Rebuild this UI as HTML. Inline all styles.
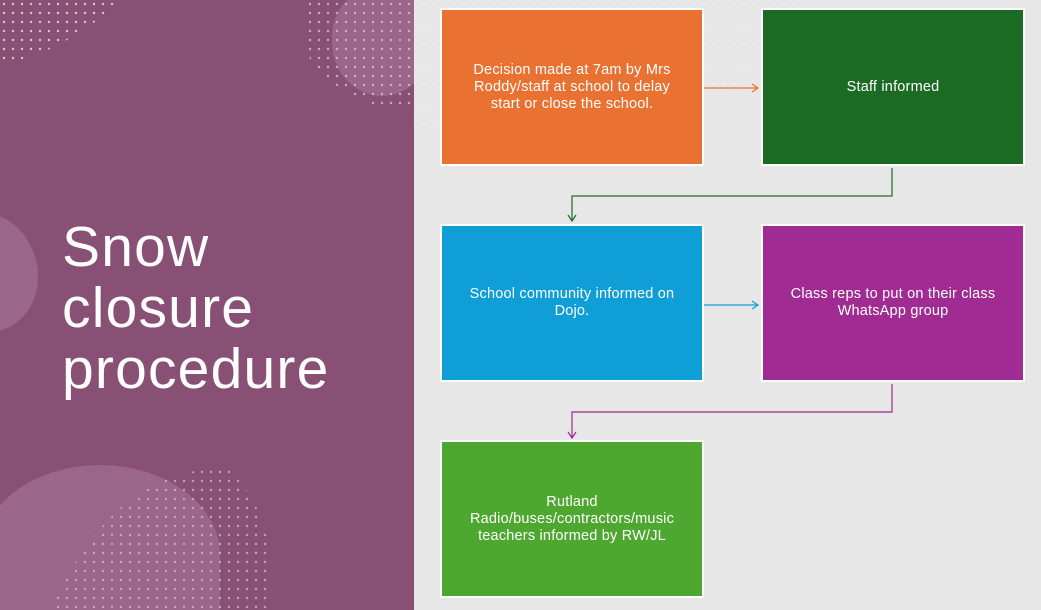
<!DOCTYPE html>
<html><head><meta charset="utf-8"><style>
html,body{margin:0;width:1041px;height:610px;overflow:hidden}
body{position:relative;background:#e7e7e7;font-family:"Liberation Sans",sans-serif}
#left{position:absolute;left:0;top:0;width:414px;height:610px;background:#895075;overflow:hidden}
.blob{position:absolute;background:#9a6689;border-radius:50%}
.title{position:absolute;left:62px;top:217px;color:#fff;font-size:57px;line-height:61px;letter-spacing:1.2px}
.box{position:absolute;width:264px;height:158px;border:2px solid #fff;box-sizing:border-box;color:#fff;font-size:14.5px;line-height:17px;display:flex;align-items:center;justify-content:center;text-align:center;padding:0 16px;letter-spacing:0.2px}
svg{position:absolute;left:0;top:0}
</style></head><body>
<div id="left">
<div class="blob" style="left:-70px;top:212px;width:108px;height:120px;border-radius:40% 60% 50% 40%"></div>
<div class="blob" style="left:332px;top:-12px;width:100px;height:108px;border-radius:45% 30% 50% 50%"></div>
<div class="blob" style="left:-20px;top:465px;width:240px;height:180px;border-radius:50% 50% 0 0"></div>
<div class="title">Snow<br>closure<br>procedure</div>
</div>
<svg width="1041" height="610">
<defs>
<pattern id="d" width="9" height="9" patternUnits="userSpaceOnUse"><circle cx="4" cy="4" r="1.2" fill="#d9c3d1"/></pattern>
<pattern id="g" width="10" height="10" patternUnits="userSpaceOnUse"><circle cx="4" cy="4" r="1.2" fill="#f2f2f2"/></pattern>
</defs>
<path d="M0 0 H120 Q70 50 0 65 Z" fill="url(#d)"/>
<path d="M305 0 H414 V110 Q350 110 310 60 Z" fill="url(#d)" opacity="0.8"/>
<path d="M50 610 Q120 460 230 470 Q280 520 270 610 Z" fill="url(#d)" opacity="0.7"/>
<path d="M414 0 H800 Q760 130 600 110 Q500 100 414 130 Z" fill="url(#g)" opacity="0.6"/>
<path d="M704 88 H758 M752 84 L758 88 L752 92" stroke="#e97132" stroke-width="1.2" fill="none"/>
<path d="M892 168 V196 H572 V221 M568 215 L572 221 L576 215" stroke="#1b6b24" stroke-width="1.2" fill="none"/>
<path d="M704 305 H758 M752 301 L758 305 L752 309" stroke="#0f9ed5" stroke-width="1.2" fill="none"/>
<path d="M892 384 V412 H572 V438 M568 432 L572 438 L576 432" stroke="#a02b93" stroke-width="1.2" fill="none"/>
</svg>
<div class="box" style="left:440px;top:8px;background:#e97132">Decision made at 7am by Mrs Roddy/staff at school to delay start or close the school.</div>
<div class="box" style="left:761px;top:8px;background:#1b6b24">Staff informed</div>
<div class="box" style="left:440px;top:224px;background:#0f9ed5">School community informed on Dojo.</div>
<div class="box" style="left:761px;top:224px;background:#a02b93">Class reps to put on their class WhatsApp group</div>
<div class="box" style="left:440px;top:440px;background:#4ea72e">Rutland Radio/buses/contractors/music teachers informed by RW/JL</div>
</body></html>
